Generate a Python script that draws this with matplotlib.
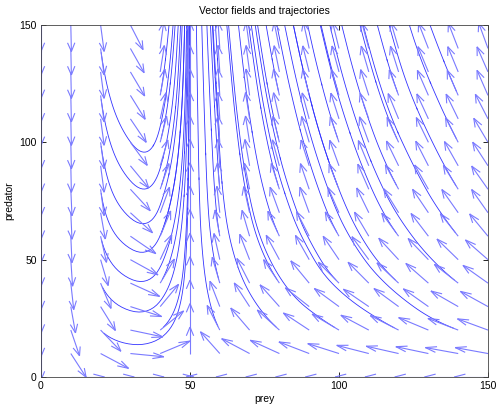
import numpy as np
import matplotlib
matplotlib.use("Agg")
import matplotlib.pyplot as plt
from matplotlib.collections import LineCollection

plt.rcParams['font.family'] = ['Liberation Sans', 'DejaVu Sans']

nan = np.nan

# grid of the direction field
prey = np.arange(0, 151, 10)
predator = np.arange(0, 151, 10)

# arrow direction (degrees), one row per predator value 0..150,
# one column per prey value 0..150. nan = no arrow
angle = [
    [nan,   0,   0,   0,  0, nan, 180, 180, 180, 180, 180, 180, 180, 180, 180, 180],  # 0
    [270, 297, 326, 353, 28,  90, 125, 146, 150, 154, 158, 162, 164, 165, 167, 167],  # 10
    [270, 285, 307, 345, 46,  90, 112, 124, 131, 140, 143, 146, 147, 152, 154, 155],  # 20
    [270, 278, 296, 338, 57,  90, 107, 117, 125, 135, 137, 139, 137, 138, 144, 145],  # 30
    [270, 275, 288, 330, 65,  90, 103, 112, 118, 123, 128, 128, 130, 132, 135, 138],  # 40
    [270, 273, 283, 325, 70,  90, 100, 107, 113, 114, 118, 120, 126, 127, 129, 132],  # 50
    [270, 272, 280, 319, 72,  90,  98, 103, 110, 112, 114, 115, 120, 121, 122, 123],  # 60
    [270, 272, 278, 311, 74,  90,  95, 100, 106, 106, 109, 111, 116, 118, 119, 119],  # 70
    [270, 272, 276, 306, 75,  90,  94,  99, 104, 105, 107, 109, 113, 114, 116, 119],  # 80
    [270, 271, 276, 303, 77,  90,  93,  98, 102, 104, 106, 108, 111, 112, 114, 117],  # 90
    [270, 271, 276, 300, 79,  90,  93,  97, 101, 103, 105, 106, 110, 111, 112, 115],  # 100
    [270, 271, 276, 298, 80,  90,  93,  97, 100, 102, 104, 105, 108, 110, 111, 112],  # 110
    [270, 271, 276, 296, 82,  90,  93,  96, 100, 101, 103, 104, 106, 109, 109, 109],  # 120
    [270, 271, 276, 295, 83,  90,  93,  96,  99, 101, 102, 103, 104, 108, 108, 109],  # 130
    [270, 271, 276, 294, 84,  90,  93,  96,  99, 100, 101, 102, 103, 107, 107, 106],  # 140
    [270, 271, 276, 292, 84,  90,  93,  96,  99, 100, 101, 102, 102, 106, 106, 106],  # 150
]
arrow_len = 11.3  # arrows all about the same length (data units)

# trajectories start on a coarser grid
start_prey = [20, 40, 60, 80, 100, 120, 140]
start_pred = [20, 40, 60, 80, 100, 120, 140]

arrow_col = (0.48, 0.48, 1.0)
line_col = (0.2, 0.2, 1.0)

fig = plt.figure(figsize=(4.96, 4.07), dpi=100)
ax = fig.add_axes([41 / 496, 30 / 407, 447 / 496, 352 / 407])

X, Y = np.meshgrid(prey, predator)
a = np.radians(np.array(angle, dtype=float))
U = arrow_len * np.cos(a)
V = arrow_len * np.sin(a)

# trajectories
SX, SY = np.meshgrid(start_prey, start_pred)
ax.streamplot(prey, predator, np.nan_to_num(U), np.nan_to_num(V),
              start_points=np.column_stack([SX.ravel(), SY.ravel()]),
              integration_direction='forward', broken_streamlines=False,
              maxlength=20, color=line_col, linewidth=0.6,
              arrowstyle='-', density=3)

# matlab style quiver: shaft plus two barbs
al, be = 0.33, 0.33
segs = []
for x, y, u, v in zip(X.ravel(), Y.ravel(), U.ravel(), V.ravel()):
    if np.isnan(u):
        continue
    tx, ty = x + u, y + v
    segs.append([(x, y), (tx, ty)])
    segs.append([(tx - al * (u + be * v), ty - al * (v - be * u)), (tx, ty)])
    segs.append([(tx - al * (u - be * v), ty - al * (v + be * u)), (tx, ty)])
ax.add_collection(LineCollection(segs, colors=[arrow_col], linewidths=0.8))

ax.set_xlim(0, 150)
ax.set_ylim(0, 150)
ax.set_xticks([0, 50, 100, 150])
ax.set_yticks([0, 50, 100, 150])
ax.tick_params(direction='in', top=True, right=True, length=3.5, width=0.6,
               labelsize=7.5, pad=3)
for s in ax.spines.values():
    s.set_linewidth(0.6)
    s.set_color('#444444')

ax.set_title('Vector fields and trajectories', fontsize=7.5, pad=8)
ax.set_xlabel('prey', fontsize=7.5, labelpad=2)
ax.set_ylabel('predator', fontsize=7.5, labelpad=4)

fig.savefig('out.png', dpi=100)
